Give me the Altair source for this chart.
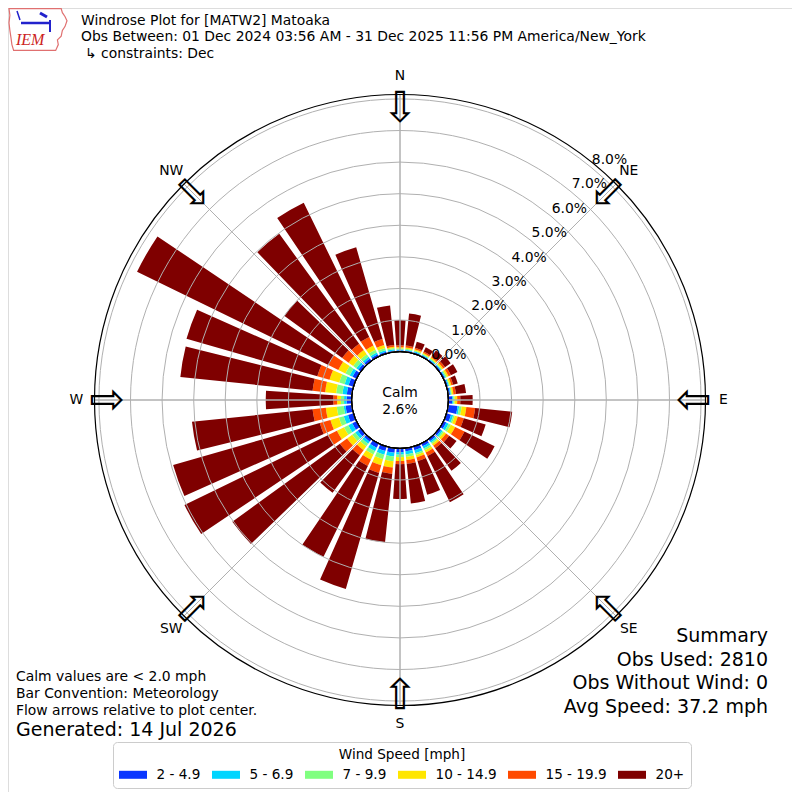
import altair as alt
import pandas as pd

# ---------------- data ----------------
directions = list(range(0, 360, 10))
speed_bins = ["2 - 4.9", "5 - 6.9", "7 - 9.9", "10 - 14.9", "15 - 19.9", "20+"]
bin_colors = ["#0a36ff", "#00d5ff", "#80ff80", "#ffe600", "#ff4a00", "#7f0000"]

# percent of observations per direction bin and speed bin
pct_2_5 = [.04, .04, .04, .04, .04, .05, .05, .05, .06, .12, .30, .15, .10, .08, .08, .10, .12, .10,
           .12, .15, .15, .15, .10, .12, .15, .18, .20, .16, .16, .16, .14, .10, .09, .08, .06, .04]
pct_5_7 = [.03, .03, .03, .03, .03, .03, .03, .03, .03, .04, .05, .07, .08, .06, .06, .08, .10, .10,
           .08, .12, .12, .12, .08, .10, .14, .14, .06, .08, .14, .13, .10, .08, .07, .06, .05, .04]
pct_7_10 = [.03, .03, .03, .03, .03, .03, .04, .03, .03, .04, .08, .05, .08, .05, .05, .06, .06, .08,
            .08, .15, .15, .12, .10, .12, .15, .16, .22, .10, .20, .18, .15, .12, .10, .10, .07, .04]
pct_10_15 = [.04, .04, .04, .03, .04, .05, .06, .05, .05, .08, .15, .10, .15, .08, .07, .08, .08, .10,
             .12, .20, .20, .18, .15, .20, .25, .28, .35, .12, .35, .32, .25, .18, .16, .15, .10, .04]
pct_15_20 = [.06, .06, .05, .05, .05, .07, .08, .06, .08, .10, .28, .20, .33, .12, .10, .12, .12, .12,
             .10, .20, .25, .22, .20, .28, .32, .35, .42, .12, .40, .40, .35, .25, .25, .30, .20, .06]
pct_20p = [.80, 1.02, .20, .15, .21, .22, .23, .15, .32, .39, 1.18, .72, 1.06, .29, .88, 1.63, 1.11, 1.26,
           1.10, 2.18, 3.82, 3.21, 1.47, 4.21, 5.05, 4.83, 3.84, 2.14, 4.21, 4.31, 6.74, 2.27, 4.30, 4.73, 3.02, 1.26]

series = [pct_2_5, pct_5_7, pct_7_10, pct_10_15, pct_15_20, pct_20p]

ring_values = [0, 1, 2, 3, 4, 5, 6, 7, 8]
compass_names = ["N", "NE", "E", "SE", "S", "SW", "W", "NW"]
compass_angles = [0, 45, 90, 135, 180, 225, 270, 315]

calm_lines = ["Calm", "2.6%"]
title_lines = ["Windrose Plot for [MATW2] Matoaka",
               "Obs Between: 01 Dec 2024 03:56 AM - 31 Dec 2025 11:56 PM America/New_York"]
constraint_line = "\u21b3 constraints: Dec"
note_lines = ["Calm values are < 2.0 mph", "Bar Convention: Meteorology",
              "Flow arrows relative to plot center."]
generated_line = "Generated: 14 Jul 2026"
summary_lines = ["Summary", "Obs Used: 2810", "Obs Without Wind: 0", "Avg Speed: 37.2 mph"]

rows = []
for i, d in enumerate(directions):
    for j, name in enumerate(speed_bins):
        rows.append({"dir": d, "bin": name, "order": j, "pct": series[j][i]})
df = pd.DataFrame(rows)

FONT = "DejaVu Sans"
TH = alt.Scale(type="linear", domain=[0, 360], range=[0, 6.283185307179586])
RS = alt.Scale(type="linear", domain=[0, 8.14], range=[48.4, 305.5], zero=False)
one = pd.DataFrame({"k": [0]})

# swatch: 28 x 8 px drawn from a 16 px layout box (scale 8 px per unit)
legend = alt.Legend(
    orient="none", legendX=105, legendY=734, direction="horizontal",
    title="Wind Speed [mph]", titleAnchor="middle", titleFont=FONT, titleFontSize=13.6,
    titleFontWeight="normal", titleColor="black", titlePadding=5,
    labelFont=FONT, labelFontSize=13.6, labelColor="black", labelOffset=21.5,
    symbolType="M-1,-0.5H2.5V0.5H-1Z", symbolSize=256, symbolStrokeWidth=0,
    symbolOpacity=1, columnPadding=11, padding=6, strokeColor="#cccccc",
    fillColor="white", cornerRadius=4,
)

bars = alt.Chart(df).transform_stack(
    stack="pct", groupby=["dir"], sort=[alt.SortField("order", order="ascending")], as_=["p0", "p1"]
).transform_calculate(
    t0="datum.dir - 4", t1="datum.dir + 4"
).mark_arc(strokeWidth=0).encode(
    theta=alt.Theta("t0:Q", scale=TH),
    theta2="t1:Q",
    radius=alt.Radius("p1:Q", scale=RS),
    radius2="p0:Q",
    color=alt.Color("bin:N", scale=alt.Scale(domain=speed_bins, range=bin_colors), legend=legend),
)

rings = alt.Chart(pd.DataFrame({"pct": ring_values})).transform_calculate(
    t0="0", t1="360"
).mark_arc(filled=False, stroke="#b0b0b0", strokeWidth=1).encode(
    theta=alt.Theta("t0:Q", scale=TH), theta2="t1:Q",
    radius=alt.Radius("pct:Q", scale=RS),
)

spokes = alt.Chart(pd.DataFrame({"ang": compass_angles})).transform_calculate(
    rr="8.14"
).mark_arc(filled=False, stroke="#b0b0b0", strokeWidth=1).encode(
    theta=alt.Theta("ang:Q", scale=TH), theta2="ang:Q",
    radius=alt.Radius("rr:Q", scale=RS),
)

calm = alt.Chart(pd.DataFrame({"pct": [0]})).transform_calculate(
    t0="0", t1="360"
).mark_arc(fill="white", stroke="black", strokeWidth=1).encode(
    theta=alt.Theta("t0:Q", scale=TH), theta2="t1:Q",
    radius=alt.Radius("pct:Q", scale=RS),
)

outer = alt.Chart(pd.DataFrame({"pct": [8.14]})).transform_calculate(
    t0="0", t1="360"
).mark_arc(filled=False, stroke="black", strokeWidth=1.2).encode(
    theta=alt.Theta("t0:Q", scale=TH), theta2="t1:Q",
    radius=alt.Radius("pct:Q", scale=RS),
)

arrows = alt.Chart(pd.DataFrame({"ang": compass_angles})).transform_calculate(
    rv="7.68", glyph="'\u21e9'"
).mark_text(font=FONT, fontSize=43, align="center", baseline="middle", color="black").encode(
    theta=alt.Theta("ang:Q", scale=TH),
    radius=alt.Radius("rv:Q", scale=RS),
    angle=alt.Angle("ang:Q", scale=None),
    text="glyph:N",
)

dir_labels = alt.Chart(pd.DataFrame({"ang": compass_angles, "name": compass_names})).transform_calculate(
    rv="8.71"
).mark_text(font=FONT, fontSize=13.9, align="center", baseline="middle", color="black").encode(
    theta=alt.Theta("ang:Q", scale=TH),
    radius=alt.Radius("rv:Q", scale=RS),
    text="name:N",
)

ring_labels = alt.Chart(pd.DataFrame({"pct": ring_values})).transform_calculate(
    ang="39.5", lab="format(datum.pct, '.1f') + '%'"
).mark_text(font=FONT, fontSize=13.9, align="center", baseline="middle", color="black",
            dx=18, dy=-7.6).encode(
    theta=alt.Theta("ang:Q", scale=TH),
    radius=alt.Radius("pct:Q", scale=RS),
    text="lab:N",
)

calm_text = alt.Chart(one).mark_text(
    text=calm_lines, font=FONT, fontSize=13.9, align="center", baseline="alphabetic",
    lineHeight=17, color="black"
).encode(x=alt.value(392), y=alt.value(388.7))

title_text = alt.Chart(one).mark_text(
    text=title_lines, font=FONT, fontSize=13.9, align="left", baseline="alphabetic",
    lineHeight=16.3, color="black"
).encode(x=alt.value(73), y=alt.value(17))

constraint_text = alt.Chart(one).mark_text(
    text=constraint_line, font=FONT, fontSize=13.9, align="left", baseline="alphabetic", color="black"
).encode(x=alt.value(77), y=alt.value(49.6))

note_text = alt.Chart(one).mark_text(
    text=note_lines, font=FONT, fontSize=13.9, align="left", baseline="alphabetic",
    lineHeight=17, color="black"
).encode(x=alt.value(8), y=alt.value(673))

gen_text = alt.Chart(one).mark_text(
    text=generated_line, font=FONT, fontSize=19, align="left", baseline="alphabetic", color="black"
).encode(x=alt.value(8), y=alt.value(728))

summary_text = alt.Chart(one).mark_text(
    text=summary_lines, font=FONT, fontSize=19, align="right", baseline="alphabetic",
    lineHeight=23.5, color="black"
).encode(x=alt.value(760), y=alt.value(634))

# simplified IEM logo
iowa_path = ("M-1,-0.72L0.8,-0.72L0.84,-0.58L0.93,-0.45L1,-0.3L0.93,-0.1L0.84,0.03L0.8,0.23"
             "L0.67,0.36L0.7,0.52L0.61,0.72L-0.84,0.72L-0.9,0.52L-0.93,0.3L-0.97,0.03L-1,-0.23L-0.97,-0.49Z")
logo_outline = alt.Chart(one).mark_point(
    shape=iowa_path, size=3364, filled=False, stroke="#e07070", strokeWidth=1.2, opacity=1
).encode(x=alt.value(30), y=alt.value(21.5))
logo_text = alt.Chart(one).mark_text(
    text="IEM", font="Liberation Serif", fontStyle="italic", fontSize=16, align="left",
    baseline="alphabetic", color="#cc2222"
).encode(x=alt.value(8), y=alt.value(37))
logo_l1 = alt.Chart(one).mark_rule(color="#2222cc", strokeWidth=2.5).encode(
    x=alt.value(13), x2=alt.value(41), y=alt.value(15), y2=alt.value(15))
logo_l2 = alt.Chart(one).mark_rule(color="#2222cc", strokeWidth=3).encode(
    x=alt.value(32), x2=alt.value(39), y=alt.value(5), y2=alt.value(9))
logo_l3 = alt.Chart(one).mark_rule(color="#2222cc", strokeWidth=2).encode(
    x=alt.value(42), x2=alt.value(42), y=alt.value(12), y2=alt.value(24))
logo_l4 = alt.Chart(one).mark_rule(color="#2222cc", strokeWidth=1.5).encode(
    x=alt.value(9), x2=alt.value(12), y=alt.value(3), y2=alt.value(12))

chart = alt.layer(
    bars, rings, spokes, calm, outer, arrows, dir_labels, ring_labels,
    calm_text, title_text, constraint_text, note_text, gen_text, summary_text,
    logo_outline, logo_text, logo_l1, logo_l2, logo_l3, logo_l4,
).properties(
    width=784, height=784,
    autosize=alt.AutoSizeParams(type="none"),
    padding={"left": 0, "top": 0, "right": 0, "bottom": 0},
    background="white",
).configure_view(stroke="transparent").configure(font=FONT)

chart.save("out.html", embed_options={"renderer": "svg", "actions": False})
